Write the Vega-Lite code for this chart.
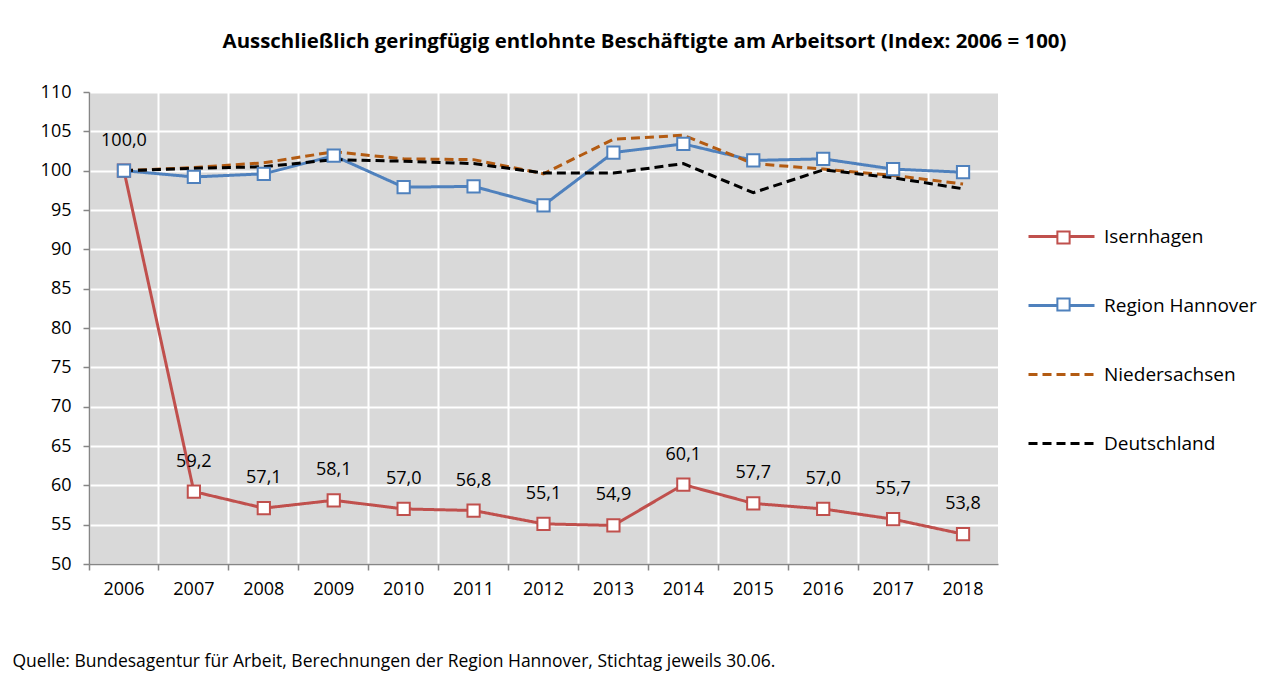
{
  "$schema": "https://vega.github.io/schema/vega-lite/v6.json",
  "autosize": {"type": "none"},
  "width": 909,
  "height": 472,
  "padding": {"left": 89, "top": 92, "right": 286, "bottom": 111},
  "background": "white",
  "config": {
    "font": "Open Sans",
    "view": {"fill": "#d9d9d9", "stroke": null},
    "axis": {
      "labelFont": "Open Sans", "labelFontSize": 18, "labelColor": "#000000",
      "domainColor": "#868686", "domainWidth": 1.5,
      "tickColor": "#868686", "tickWidth": 1.5, "tickSize": 6,
      "gridColor": "#ffffff", "gridWidth": 2, "gridOpacity": 1
    },
    "legend": {"labelFont": "Open Sans", "labelFontSize": 19, "labelColor": "#000000"}
  },
  "title": {
    "text": "Ausschließlich geringfügig entlohnte  Beschäftigte am Arbeitsort  (Index: 2006 = 100)",
    "anchor": "middle", "frame": "group", "dx": 101, "offset": 15, "baseline": "alphabetic",
    "font": "Open Sans", "fontSize": 20.4, "fontWeight": "bold", "color": "#000000"
  },
  "data": {
    "values": [
      {"year": "2006", "series": "Isernhagen", "value": 100.0, "label": "100,0"},
      {"year": "2007", "series": "Isernhagen", "value": 59.2, "label": "59,2"},
      {"year": "2008", "series": "Isernhagen", "value": 57.1, "label": "57,1"},
      {"year": "2009", "series": "Isernhagen", "value": 58.1, "label": "58,1"},
      {"year": "2010", "series": "Isernhagen", "value": 57.0, "label": "57,0"},
      {"year": "2011", "series": "Isernhagen", "value": 56.8, "label": "56,8"},
      {"year": "2012", "series": "Isernhagen", "value": 55.1, "label": "55,1"},
      {"year": "2013", "series": "Isernhagen", "value": 54.9, "label": "54,9"},
      {"year": "2014", "series": "Isernhagen", "value": 60.1, "label": "60,1"},
      {"year": "2015", "series": "Isernhagen", "value": 57.7, "label": "57,7"},
      {"year": "2016", "series": "Isernhagen", "value": 57.0, "label": "57,0"},
      {"year": "2017", "series": "Isernhagen", "value": 55.7, "label": "55,7"},
      {"year": "2018", "series": "Isernhagen", "value": 53.8, "label": "53,8"},
      {"year": "2006", "series": "Region Hannover", "value": 100.0},
      {"year": "2007", "series": "Region Hannover", "value": 99.2},
      {"year": "2008", "series": "Region Hannover", "value": 99.6},
      {"year": "2009", "series": "Region Hannover", "value": 101.9},
      {"year": "2010", "series": "Region Hannover", "value": 97.9},
      {"year": "2011", "series": "Region Hannover", "value": 98.0},
      {"year": "2012", "series": "Region Hannover", "value": 95.6},
      {"year": "2013", "series": "Region Hannover", "value": 102.3},
      {"year": "2014", "series": "Region Hannover", "value": 103.4},
      {"year": "2015", "series": "Region Hannover", "value": 101.3},
      {"year": "2016", "series": "Region Hannover", "value": 101.5},
      {"year": "2017", "series": "Region Hannover", "value": 100.2},
      {"year": "2018", "series": "Region Hannover", "value": 99.8},
      {"year": "2006", "series": "Niedersachsen", "value": 100.0},
      {"year": "2007", "series": "Niedersachsen", "value": 100.4},
      {"year": "2008", "series": "Niedersachsen", "value": 101.0},
      {"year": "2009", "series": "Niedersachsen", "value": 102.4},
      {"year": "2010", "series": "Niedersachsen", "value": 101.5},
      {"year": "2011", "series": "Niedersachsen", "value": 101.4},
      {"year": "2012", "series": "Niedersachsen", "value": 99.6},
      {"year": "2013", "series": "Niedersachsen", "value": 104.0},
      {"year": "2014", "series": "Niedersachsen", "value": 104.5},
      {"year": "2015", "series": "Niedersachsen", "value": 100.9},
      {"year": "2016", "series": "Niedersachsen", "value": 100.2},
      {"year": "2017", "series": "Niedersachsen", "value": 99.4},
      {"year": "2018", "series": "Niedersachsen", "value": 98.3},
      {"year": "2006", "series": "Deutschland", "value": 100.0},
      {"year": "2007", "series": "Deutschland", "value": 100.3},
      {"year": "2008", "series": "Deutschland", "value": 100.5},
      {"year": "2009", "series": "Deutschland", "value": 101.4},
      {"year": "2010", "series": "Deutschland", "value": 101.2},
      {"year": "2011", "series": "Deutschland", "value": 100.9},
      {"year": "2012", "series": "Deutschland", "value": 99.7},
      {"year": "2013", "series": "Deutschland", "value": 99.7},
      {"year": "2014", "series": "Deutschland", "value": 100.9},
      {"year": "2015", "series": "Deutschland", "value": 97.2},
      {"year": "2016", "series": "Deutschland", "value": 100.1},
      {"year": "2017", "series": "Deutschland", "value": 99.1},
      {"year": "2018", "series": "Deutschland", "value": 97.7}
    ]
  },
  "encoding": {
    "x": {
      "field": "year", "type": "ordinal",
      "scale": {"type": "band", "paddingInner": 0, "paddingOuter": 0},
      "axis": {
        "bandPosition": 0, "labelOffset": 0, "labelAngle": 0, "labelPadding": 10,
        "grid": true,
        "title": "Quelle: Bundesagentur für Arbeit, Berechnungen  der Region Hannover, Stichtag  jeweils  30.06.",
        "titleX": -77, "titleY": 97, "titleAlign": "left", "titleBaseline": "middle", "titleAnchor": null,
        "titleFont": "Open Sans", "titleFontSize": 17.5, "titleFontWeight": "normal", "titleColor": "#000000"
      }
    },
    "y": {
      "field": "value", "type": "quantitative",
      "scale": {"domain": [50, 110], "nice": false, "zero": false},
      "axis": {"values": [50, 55, 60, 65, 70, 75, 80, 85, 90, 95, 100, 105, 110], "title": null, "labelPadding": 12, "grid": true}
    }
  },
  "layer": [
    {
      "mark": {"type": "line", "strokeWidth": 3},
      "encoding": {
        "color": {
          "field": "series", "type": "nominal",
          "scale": {"domain": ["Isernhagen", "Region Hannover", "Niedersachsen", "Deutschland"], "range": ["#c0504d", "#4f81bd", "#b35b12", "#000000"]},
          "legend": {
            "title": null, "orient": "none", "legendX": 938, "legendY": 110, "direction": "vertical", "columns": 1,
            "symbolType": "stroke", "symbolSize": 4356, "symbolStrokeWidth": 3, "labelOffset": 8, "rowPadding": 24
          }
        },
        "strokeDash": {
          "field": "series", "type": "nominal",
          "scale": {"domain": ["Isernhagen", "Region Hannover", "Niedersachsen", "Deutschland"], "range": [[1, 0], [1, 0], [9, 5], [9, 5]]},
          "legend": {
            "title": null, "orient": "none", "legendX": 938, "legendY": 110, "direction": "vertical", "columns": 1,
            "symbolType": "stroke", "symbolSize": 4356, "symbolStrokeWidth": 3, "labelOffset": 8, "rowPadding": 24
          }
        }
      }
    },
    {
      "transform": [{"filter": "datum.series === 'Isernhagen' || datum.series === 'Region Hannover'"}],
      "mark": {"type": "point", "shape": "square", "filled": false, "fill": "white", "fillOpacity": 1, "opacity": 1, "strokeWidth": 2, "size": 150},
      "encoding": {
        "stroke": {
          "field": "series", "type": "nominal",
          "scale": {"domain": ["Isernhagen", "Region Hannover"], "range": ["#c0504d", "#4f81bd"]},
          "legend": {
            "title": null, "orient": "none", "legendX": 965, "legendY": 136, "direction": "vertical", "columns": 1,
            "symbolFillColor": "white", "symbolSize": 150, "symbolStrokeWidth": 2, "labelExpr": "''", "rowPadding": 46
          }
        },
        "shape": {
          "field": "series", "type": "nominal",
          "scale": {"domain": ["Isernhagen", "Region Hannover"], "range": ["square", "square"]},
          "legend": {
            "title": null, "orient": "none", "legendX": 965, "legendY": 136, "direction": "vertical", "columns": 1,
            "symbolFillColor": "white", "symbolSize": 150, "symbolStrokeWidth": 2, "labelExpr": "''", "rowPadding": 46
          }
        }
      }
    },
    {
      "transform": [{"filter": "datum.series === 'Isernhagen'"}],
      "mark": {"type": "text", "dy": -30, "font": "Open Sans", "fontSize": 18, "color": "#000000", "baseline": "middle"},
      "encoding": {"text": {"field": "label", "type": "nominal"}}
    }
  ]
}
